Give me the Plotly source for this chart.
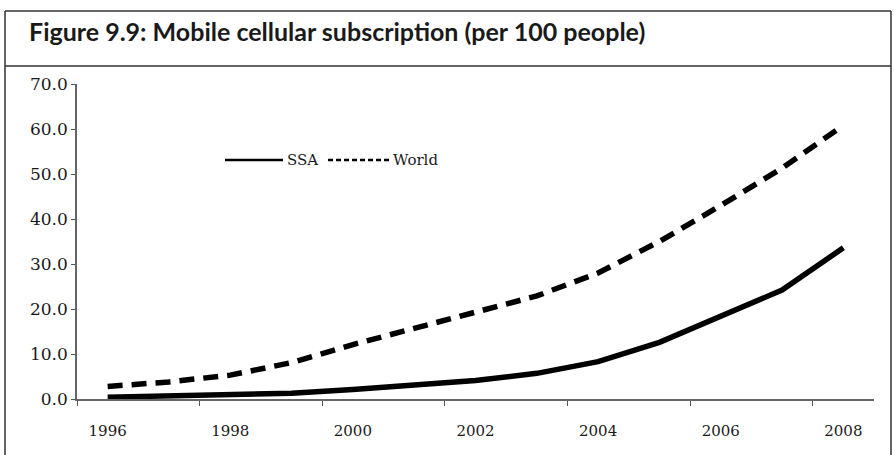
import plotly.graph_objects as go

years = [1996, 1997, 1998, 1999, 2000, 2001, 2002, 2003, 2004, 2005, 2006, 2007, 2008]
ssa = [0.4, 0.6, 0.9, 1.3, 2.1, 3.0, 4.1, 5.7, 8.3, 12.6, 18.3, 24.2, 33.6]
world = [2.8, 3.8, 5.3, 8.1, 12.1, 15.7, 19.0, 22.9, 28.0, 35.0, 43.0, 51.3, 60.8]
ytick_vals = [0, 10, 20, 30, 40, 50, 60, 70]
xtick_vals = [1996, 1998, 2000, 2002, 2004, 2006, 2008]
title_text = "Figure 9.9: Mobile cellular subscription (per 100 people)"

W, H = 894, 455
ML, MR, MT, MB = 77, 20, 84, 56
PW, PH = W - ML - MR, H - MT - MB


def px(x):
    return (x - ML) / PW


def py(y):
    return 1 - (y - MT) / PH


fig = go.Figure()
fig.add_trace(go.Scatter(x=years, y=ssa, mode="lines", name="SSA",
                         line=dict(color="black", width=5.5), showlegend=False))
fig.add_trace(go.Scatter(x=years, y=world, mode="lines", name="World",
                         line=dict(color="black", width=5.5, dash="15px,9px"),
                         showlegend=False))

shapes = []
border = dict(color="#333333", width=1.5)
shapes.append(dict(type="line", xref="paper", yref="paper", x0=px(5), x1=px(5), y0=py(11), y1=py(460), line=border))
shapes.append(dict(type="line", xref="paper", yref="paper", x0=px(891), x1=px(891), y0=py(11), y1=py(460), line=border))
shapes.append(dict(type="line", xref="paper", yref="paper", x0=px(5), x1=px(891), y0=py(11), y1=py(11), line=border))
shapes.append(dict(type="line", xref="paper", yref="paper", x0=px(5), x1=px(891), y0=py(66), y1=py(66), line=border))
shapes.append(dict(type="line", xref="paper", yref="paper", x0=px(225), x1=px(283), y0=py(160), y1=py(160),
                   line=dict(color="black", width=2.5)))
shapes.append(dict(type="line", xref="paper", yref="paper", x0=px(328), x1=px(390), y0=py(160), y1=py(160),
                   line=dict(color="black", width=2.5, dash="5px,3px")))

annotations = [
    dict(text="<b>" + title_text + "</b>", xref="paper", yref="paper", x=px(27), y=py(31),
         xanchor="left", yanchor="middle", showarrow=False,
         font=dict(family="Lato, sans-serif", size=25, color="#1a1a1a")),
    dict(text="SSA", xref="paper", yref="paper", x=px(285), y=py(160), xanchor="left", yanchor="middle",
         showarrow=False, font=dict(family="DejaVu Serif, serif", size=15, color="#1a1a1a")),
    dict(text="World", xref="paper", yref="paper", x=px(391), y=py(160), xanchor="left", yanchor="middle",
         showarrow=False, font=dict(family="DejaVu Serif, serif", size=15, color="#1a1a1a")),
]

fig.update_layout(
    width=W, height=H,
    margin=dict(l=ML, r=MR, t=MT, b=MB),
    paper_bgcolor="white", plot_bgcolor="white",
    showlegend=False,
    shapes=shapes,
    annotations=annotations,
    xaxis=dict(range=[1995.5, 2008.5], tickmode="array", tickvals=xtick_vals,
               ticktext=[str(v) for v in xtick_vals], ticks="outside", ticklen=0,
               ticklabelstandoff=17,
               minor=dict(tick0=1997.5, dtick=2, ticks="outside", ticklen=5, tickcolor="#555555", tickwidth=1),
               showline=True, linecolor="#666666", linewidth=1.5, showgrid=False, zeroline=False,
               tickfont=dict(family="DejaVu Serif, serif", size=15, color="#1a1a1a")),
    yaxis=dict(range=[0, 70], tickmode="array", tickvals=ytick_vals, tickformat=".1f",
               ticks="outside", ticklen=4, tickcolor="#555555", tickwidth=1,
               showline=True, linecolor="#666666", linewidth=1.5, showgrid=False, zeroline=False,
               tickfont=dict(family="DejaVu Serif, serif", size=17, color="#1a1a1a")),
)

fig.write_html("out.html", config={"displayModeBar": False},
               post_script="document.body.style.margin='0';document.body.style.padding='0';")
